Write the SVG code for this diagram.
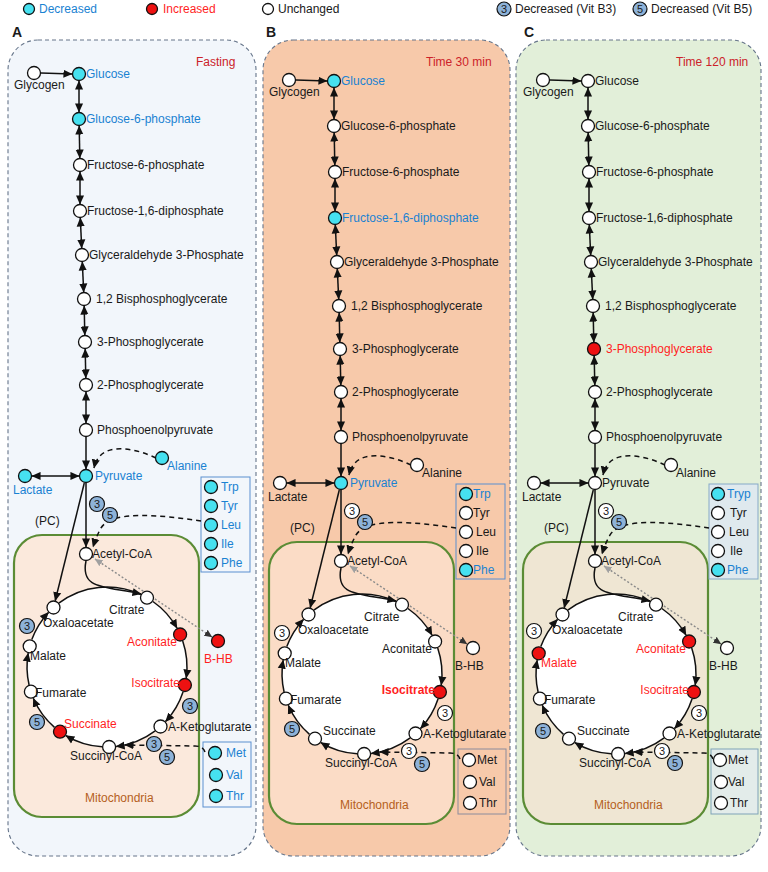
<svg xmlns="http://www.w3.org/2000/svg" width="768" height="872" viewBox="0 0 768 872">
<style>
text{font-family:"Liberation Sans",Arial,sans-serif;font-size:12px;fill:#1a1a1a}
.dec{fill:#1a82d2}.inc{fill:#ff1f1f}.ttl{fill:#cc2229}.mito{fill:#b5601c}
.bold{font-weight:bold}
.n{stroke:#111;stroke-width:1.3}
.nw{fill:#fff}.nc{fill:#46e1f0}.nr{fill:#ee1111}
.bd{stroke:#111;stroke-width:1.2}
.bb{fill:#8db2d8}.bw{fill:#fff}
.bt{font-size:11px;text-anchor:middle}
.ln{fill:none;stroke:#111;stroke-width:1.5}
.dash{fill:none;stroke:#111;stroke-width:1.5;stroke-dasharray:5,4}
.dot{fill:none;stroke:#8a8a8a;stroke-width:1.4;stroke-dasharray:2,2}
.outer{stroke:#66758a;stroke-width:1.1;stroke-dasharray:4,3}
.mbox{stroke:#5b8c35;stroke-width:2.2}
.end{text-anchor:end}
</style>
<defs>
<marker id="ah" viewBox="0 0 10 10" refX="9.5" refY="5" markerWidth="9" markerHeight="9" markerUnits="userSpaceOnUse" orient="auto-start-reverse"><path d="M0,0.5 L10,5 L0,9.5z" fill="#111"/></marker>
<marker id="ahd" viewBox="0 0 10 10" refX="9.5" refY="5" markerWidth="8" markerHeight="8" markerUnits="userSpaceOnUse" orient="auto-start-reverse"><path d="M0,0.5 L10,5 L0,9.5z" fill="#333"/></marker>
<marker id="ahg" viewBox="0 0 10 10" refX="9.5" refY="5" markerWidth="8" markerHeight="8" markerUnits="userSpaceOnUse" orient="auto-start-reverse"><path d="M0,0.5 L10,5 L0,9.5z" fill="#a0a0a0"/></marker>
</defs>

<!-- Legend -->
<g id="legend">
<g id="leg-dec"><circle class="n nc" cx="29" cy="9" r="5.5"/><text class="dec" x="39" y="13">Decreased</text></g>
<g id="leg-inc"><circle class="n nr" cx="152" cy="9" r="5.5"/><text class="inc" x="163" y="13">Increased</text></g>
<g id="leg-unc"><circle class="n nw" cx="268" cy="9" r="5.5"/><text x="278" y="13">Unchanged</text></g>
<g id="leg-b3"><circle class="bd bb" cx="504" cy="9" r="7"/><text class="bt" x="504" y="13">3</text><text x="515" y="13">Decreased (Vit B3)</text></g>
<g id="leg-b5"><circle class="bd bb" cx="640" cy="9" r="7"/><text class="bt" x="640" y="13">5</text><text x="651" y="13">Decreased (Vit B5)</text></g>
</g>

<!-- Panel letters -->
<text class="bold" x="12" y="37" style="font-size:14px">A</text>
<text class="bold" x="266" y="37" style="font-size:14px">B</text>
<text class="bold" x="524" y="37" style="font-size:14px">C</text>

<!-- Outer panels -->
<rect id="panelA-bg" class="outer" x="8" y="40" width="248" height="816" rx="30" fill="#f2f6fb"/>
<rect id="panelB-bg" class="outer" x="263" y="40" width="247" height="816" rx="30" fill="#f7c9aa"/>
<rect id="panelC-bg" class="outer" x="516" y="40" width="245" height="816" rx="30" fill="#e2efd9"/>

<!-- ================= PANEL A ================= -->
<g id="panelA">
<text class="ttl" x="196" y="66">Fasting</text>
<rect id="A-mito" class="mbox" x="14" y="535" width="185" height="282" rx="28" fill="#fbe9dc"/>
<text class="mito" x="85" y="802">Mitochondria</text>
<rect id="A-aabox1" x="201" y="477" width="49" height="95" fill="none" stroke="#5b8fd0" stroke-width="1"/>
<rect id="A-aabox2" x="203" y="742" width="48" height="65" fill="none" stroke="#5b8fd0" stroke-width="1"/>
<circle cx="107" cy="667" r="80" fill="#fff"/>
<g id="A-connectors">
<path class="ln" d="M41,73 L72,74" marker-end="url(#ah)"/>
<path class="ln" d="M79,81 L79,112" marker-start="url(#ah)" marker-end="url(#ah)"/>
<path class="ln" d="M79.2,126 L79.8,158" marker-start="url(#ah)" marker-end="url(#ah)"/>
<path class="ln" d="M80,172 L80,204" marker-start="url(#ah)" marker-end="url(#ah)"/>
<path class="ln" d="M80.3,218 L81.7,248" marker-start="url(#ah)" marker-end="url(#ah)"/>
<path class="ln" d="M82.3,262 L83.7,292" marker-start="url(#ah)" marker-end="url(#ah)"/>
<path class="ln" d="M84.2,306 L84.8,335" marker-start="url(#ah)" marker-end="url(#ah)"/>
<path class="ln" d="M85.2,349 L85.8,378" marker-start="url(#ah)" marker-end="url(#ah)"/>
<path class="ln" d="M86,392 L86,423" marker-start="url(#ah)" marker-end="url(#ah)"/>
<path class="ln" d="M86,437 L86,469" marker-end="url(#ah)"/>
<path class="ln" d="M32,476 L79,476" marker-start="url(#ah)" marker-end="url(#ah)"/>
<path class="dash" d="M156,458 C135,448 100,440 94,468" marker-end="url(#ah)"/>
<path class="ln" d="M86,483 L86,547" marker-end="url(#ah)"/>
<path class="ln" d="M84.3,483 L55.2,600.7" marker-end="url(#ah)"/>
<path class="dash" d="M201,521 C160,515 112,510 101,528 Q96,537 93,547" marker-end="url(#ah)"/>
<path class="ln" d="M86,561 C80,590 105,586 141,594" marker-end="url(#ah)"/>
<path class="dot" d="M95,559 L212,637" marker-start="url(#ahg)" marker-end="url(#ahd)"/>
<path class="ln" d="M58.8,603.1 A80,80 0 0 1 140.8,594.5"/>
<path class="ln" d="M152.9,601.5 A80,80 0 0 1 177,628.2" marker-end="url(#ah)"/>
<path class="ln" d="M182.7,640.9 A80,80 0 0 1 186.2,678.1" marker-end="url(#ah)"/>
<path class="ln" d="M183.1,691.7 A80,80 0 0 1 165.5,721.6" marker-end="url(#ah)"/>
<path class="ln" d="M155.2,730.9 A80,80 0 0 1 116.1,746.5" marker-end="url(#ah)"/>
<path class="ln" d="M102.1,746.8 A80,80 0 0 1 65.8,735.6" marker-end="url(#ah)"/>
<path class="ln" d="M54.5,727.4 A80,80 0 0 1 33.3,698.3" marker-end="url(#ah)"/>
<path class="ln" d="M29.1,685 A80,80 0 0 1 28.2,653.1" marker-end="url(#ah)"/>
<path class="ln" d="M31.8,639.6 A80,80 0 0 1 48.5,612.4" marker-end="url(#ah)"/>
<path class="dash" d="M205,752 Q203,746 195,746 L125,745" marker-end="url(#ah)"/>
</g>
<g id="A-glycogen"><circle class="n nw" cx="34" cy="73" r="6.5"/><text x="14" y="89">Glycogen</text></g>
<g id="A-glucose"><circle class="n nc" cx="79" cy="74" r="6.5"/><text class="dec" x="86" y="78">Glucose</text></g>
<g id="A-g6p"><circle class="n nc" cx="79" cy="119" r="6.5"/><text class="dec" x="86" y="123">Glucose-6-phosphate</text></g>
<g id="A-f6p"><circle class="n nw" cx="80" cy="165" r="6.5"/><text x="87" y="169">Fructose-6-phosphate</text></g>
<g id="A-f16bp"><circle class="n nw" cx="80" cy="211" r="6.5"/><text x="87" y="215">Fructose-1,6-diphosphate</text></g>
<g id="A-ga3p"><circle class="n nw" cx="82" cy="255" r="6.5"/><text x="89" y="259">Glyceraldehyde 3-Phosphate</text></g>
<g id="A-bpg"><circle class="n nw" cx="84" cy="299" r="6.5"/><text x="96" y="303">1,2 Bisphosphoglycerate</text></g>
<g id="A-3pg"><circle class="n nw" cx="85" cy="342" r="6.5"/><text x="97" y="346">3-Phosphoglycerate</text></g>
<g id="A-2pg"><circle class="n nw" cx="86" cy="385" r="6.5"/><text x="97" y="389">2-Phosphoglycerate</text></g>
<g id="A-pep"><circle class="n nw" cx="86" cy="430" r="6.5"/><text x="97" y="434">Phosphoenolpyruvate</text></g>
<g id="A-pyr"><circle class="n nc" cx="86" cy="476" r="6.5"/><text class="dec" x="95" y="480">Pyruvate</text></g>
<g id="A-lac"><circle class="n nc" cx="25" cy="476" r="6.5"/><text class="dec" x="13" y="494">Lactate</text></g>
<g id="A-ala"><circle class="n nc" cx="162" cy="458" r="6.5"/><text class="dec" x="167" y="470">Alanine</text></g>
<g id="A-trp"><circle class="n nc" cx="211" cy="487" r="6.5"/><text class="dec" x="221" y="491">Trp</text></g>
<g id="A-tyr"><circle class="n nc" cx="211" cy="506" r="6.5"/><text class="dec" x="221" y="510">Tyr</text></g>
<g id="A-leu"><circle class="n nc" cx="211" cy="525" r="6.5"/><text class="dec" x="221" y="529">Leu</text></g>
<g id="A-ile"><circle class="n nc" cx="211" cy="544" r="6.5"/><text class="dec" x="221" y="548">Ile</text></g>
<g id="A-phe"><circle class="n nc" cx="211" cy="563" r="6.5"/><text class="dec" x="221" y="567">Phe</text></g>
<text x="35" y="525">(PC)</text>
<g id="A-acoa"><circle class="n nw" cx="86" cy="554" r="6.5"/><text x="92" y="558">Acetyl-CoA</text></g>
<g id="A-cit"><circle class="n nw" cx="147" cy="597.7" r="6.5"/><text x="109" y="614">Citrate</text></g>
<g id="A-oaa"><circle class="n nw" cx="53.5" cy="607.5" r="6.5"/><text x="43" y="627">Oxaloacetate</text></g>
<g id="A-acon"><circle class="n nr" cx="180.1" cy="634.5" r="6.5"/><text class="inc end" x="177" y="646">Aconitate</text></g>
<g id="A-iso"><circle class="n nr" cx="184.9" cy="685" r="6.5"/><text class="inc end" x="180" y="687">Isocitrate</text></g>
<g id="A-akg"><circle class="n nw" cx="160.5" cy="726.5" r="6.5"/><text x="168" y="731">A-Ketoglutarate</text></g>
<g id="A-scoa"><circle class="n nw" cx="109.1" cy="747" r="6.5"/><text x="70" y="760">Succinyl-CoA</text></g>
<g id="A-succ"><circle class="n nr" cx="60" cy="731.7" r="6.5"/><text class="inc" x="64" y="728">Succinate</text></g>
<g id="A-fum"><circle class="n nw" cx="30.9" cy="691.7" r="6.5"/><text x="35" y="697">Fumarate</text></g>
<g id="A-mal"><circle class="n nw" cx="29.7" cy="646.3" r="6.5"/><text x="30" y="660">Malate</text></g>
<g id="A-bhb"><circle class="n nr" cx="218" cy="641" r="6.5"/><text class="inc" x="204" y="663">B-HB</text></g>
<g id="A-met"><circle class="n nc" cx="215" cy="753" r="6.5"/><text class="dec" x="226" y="757">Met</text></g>
<g id="A-val"><circle class="n nc" cx="216" cy="775" r="6.5"/><text class="dec" x="226" y="779">Val</text></g>
<g id="A-thr"><circle class="n nc" cx="216" cy="796" r="6.5"/><text class="dec" x="226" y="800">Thr</text></g>
<g id="A-b-pyr3"><circle class="bd bb" cx="97" cy="504" r="7.5"/><text class="bt" x="97" y="508">3</text></g>
<g id="A-b-pyr5"><circle class="bd bb" cx="110" cy="515" r="7.5"/><text class="bt" x="110" y="519">5</text></g>
<g id="A-b-oaa3"><circle class="bd bb" cx="27" cy="626" r="7.5"/><text class="bt" x="27" y="630">3</text></g>
<g id="A-b-akg3"><circle class="bd bb" cx="190" cy="706" r="7.5"/><text class="bt" x="190" y="710">3</text></g>
<g id="A-b-suc5"><circle class="bd bb" cx="37" cy="722" r="7.5"/><text class="bt" x="37" y="726">5</text></g>
<g id="A-b-scoa3"><circle class="bd bb" cx="154" cy="744" r="7.5"/><text class="bt" x="154" y="748">3</text></g>
<g id="A-b-scoa5"><circle class="bd bb" cx="167" cy="757" r="7.5"/><text class="bt" x="167" y="761">5</text></g>
</g>

<!-- ================= PANEL B ================= -->
<text class="ttl" x="426" y="66">Time 30 min</text>
<g id="panelB" transform="translate(255,7)">
<rect id="B-mito" class="mbox" x="14" y="535" width="185" height="282" rx="28" fill="#fbdcc6"/>
<text class="mito" x="85" y="802">Mitochondria</text>
<rect id="B-aabox1" x="201" y="477" width="49" height="95" fill="none" stroke="#5b8fd0" stroke-width="1"/>
<rect id="B-aabox2" x="203" y="742" width="48" height="65" fill="none" stroke="#8c8c9c" stroke-width="1"/>
<circle cx="107" cy="667" r="80" fill="#fff"/>
<g id="B-connectors">
<path class="ln" d="M41,73 L72,74" marker-end="url(#ah)"/>
<path class="ln" d="M79,81 L79,112" marker-start="url(#ah)" marker-end="url(#ah)"/>
<path class="ln" d="M79.2,126 L79.8,158" marker-start="url(#ah)" marker-end="url(#ah)"/>
<path class="ln" d="M80,172 L80,204" marker-start="url(#ah)" marker-end="url(#ah)"/>
<path class="ln" d="M80.3,218 L81.7,248" marker-start="url(#ah)" marker-end="url(#ah)"/>
<path class="ln" d="M82.3,262 L83.7,292" marker-start="url(#ah)" marker-end="url(#ah)"/>
<path class="ln" d="M84.2,306 L84.8,335" marker-start="url(#ah)" marker-end="url(#ah)"/>
<path class="ln" d="M85.2,349 L85.8,378" marker-start="url(#ah)" marker-end="url(#ah)"/>
<path class="ln" d="M86,392 L86,423" marker-start="url(#ah)" marker-end="url(#ah)"/>
<path class="ln" d="M86,437 L86,469" marker-end="url(#ah)"/>
<path class="ln" d="M32,476 L79,476" marker-start="url(#ah)" marker-end="url(#ah)"/>
<path class="dash" d="M156,458 C135,448 100,440 94,468" marker-end="url(#ah)"/>
<path class="ln" d="M86,483 L86,547" marker-end="url(#ah)"/>
<path class="ln" d="M84.3,483 L55.2,600.7" marker-end="url(#ah)"/>
<path class="dash" d="M201,521 C160,515 112,510 101,528 Q96,537 93,547" marker-end="url(#ah)"/>
<path class="ln" d="M86,561 C80,590 105,586 141,594" marker-end="url(#ah)"/>
<path class="dot" d="M95,559 L212,637" marker-start="url(#ahg)" marker-end="url(#ahd)"/>
<path class="ln" d="M58.8,603.1 A80,80 0 0 1 140.8,594.5"/>
<path class="ln" d="M152.9,601.5 A80,80 0 0 1 177,628.2" marker-end="url(#ah)"/>
<path class="ln" d="M182.7,640.9 A80,80 0 0 1 186.2,678.1" marker-end="url(#ah)"/>
<path class="ln" d="M183.1,691.7 A80,80 0 0 1 165.5,721.6" marker-end="url(#ah)"/>
<path class="ln" d="M155.2,730.9 A80,80 0 0 1 116.1,746.5" marker-end="url(#ah)"/>
<path class="ln" d="M102.1,746.8 A80,80 0 0 1 65.8,735.6" marker-end="url(#ah)"/>
<path class="ln" d="M54.5,727.4 A80,80 0 0 1 33.3,698.3" marker-end="url(#ah)"/>
<path class="ln" d="M29.1,685 A80,80 0 0 1 28.2,653.1" marker-end="url(#ah)"/>
<path class="ln" d="M31.8,639.6 A80,80 0 0 1 48.5,612.4" marker-end="url(#ah)"/>
<path class="dash" d="M205,752 Q203,746 195,746 L125,745" marker-end="url(#ah)"/>
</g>
<g id="B-glycogen"><circle class="n nw" cx="34" cy="73" r="6.5"/><text x="14" y="89">Glycogen</text></g>
<g id="B-glucose"><circle class="n nc" cx="79" cy="74" r="6.5"/><text class="dec" x="86" y="78">Glucose</text></g>
<g id="B-g6p"><circle class="n nw" cx="79" cy="119" r="6.5"/><text x="86" y="123">Glucose-6-phosphate</text></g>
<g id="B-f6p"><circle class="n nw" cx="80" cy="165" r="6.5"/><text x="87" y="169">Fructose-6-phosphate</text></g>
<g id="B-f16bp"><circle class="n nc" cx="80" cy="211" r="6.5"/><text class="dec" x="87" y="215">Fructose-1,6-diphosphate</text></g>
<g id="B-ga3p"><circle class="n nw" cx="82" cy="255" r="6.5"/><text x="89" y="259">Glyceraldehyde 3-Phosphate</text></g>
<g id="B-bpg"><circle class="n nw" cx="84" cy="299" r="6.5"/><text x="96" y="303">1,2 Bisphosphoglycerate</text></g>
<g id="B-3pg"><circle class="n nw" cx="85" cy="342" r="6.5"/><text x="97" y="346">3-Phosphoglycerate</text></g>
<g id="B-2pg"><circle class="n nw" cx="86" cy="385" r="6.5"/><text x="97" y="389">2-Phosphoglycerate</text></g>
<g id="B-pep"><circle class="n nw" cx="86" cy="430" r="6.5"/><text x="97" y="434">Phosphoenolpyruvate</text></g>
<g id="B-pyr"><circle class="n nc" cx="86" cy="476" r="6.5"/><text class="dec" x="95" y="480">Pyruvate</text></g>
<g id="B-lac"><circle class="n nw" cx="25" cy="476" r="6.5"/><text x="13" y="494">Lactate</text></g>
<g id="B-ala"><circle class="n nw" cx="162" cy="458" r="6.5"/><text x="167" y="470">Alanine</text></g>
<g id="B-trp"><circle class="n nc" cx="211" cy="487" r="6.5"/><text class="dec" x="218" y="491">Trp</text></g>
<g id="B-tyr"><circle class="n nw" cx="211" cy="506" r="6.5"/><text x="218" y="510">Tyr</text></g>
<g id="B-leu"><circle class="n nw" cx="211" cy="525" r="6.5"/><text x="221" y="529">Leu</text></g>
<g id="B-ile"><circle class="n nw" cx="211" cy="544" r="6.5"/><text x="221" y="548">Ile</text></g>
<g id="B-phe"><circle class="n nc" cx="211" cy="563" r="6.5"/><text class="dec" x="218" y="567">Phe</text></g>
<text x="35" y="525">(PC)</text>
<g id="B-acoa"><circle class="n nw" cx="86" cy="554" r="6.5"/><text x="92" y="558">Acetyl-CoA</text></g>
<g id="B-cit"><circle class="n nw" cx="147" cy="597.7" r="6.5"/><text x="109" y="614">Citrate</text></g>
<g id="B-oaa"><circle class="n nw" cx="53.5" cy="607.5" r="6.5"/><text x="43" y="627">Oxaloacetate</text></g>
<g id="B-acon"><circle class="n nw" cx="180.1" cy="634.5" r="6.5"/><text class="end" x="177" y="646">Aconitate</text></g>
<g id="B-iso"><circle class="n nr" cx="184.9" cy="685" r="6.5"/><text class="inc end bold" x="180" y="687">Isocitrate</text></g>
<g id="B-akg"><circle class="n nw" cx="160.5" cy="726.5" r="6.5"/><text x="168" y="731">A-Ketoglutarate</text></g>
<g id="B-scoa"><circle class="n nw" cx="109.1" cy="747" r="6.5"/><text x="70" y="760">Succinyl-CoA</text></g>
<g id="B-succ"><circle class="n nw" cx="60" cy="731.7" r="6.5"/><text x="68" y="728">Succinate</text></g>
<g id="B-fum"><circle class="n nw" cx="30.9" cy="691.7" r="6.5"/><text x="35" y="697">Fumarate</text></g>
<g id="B-mal"><circle class="n nw" cx="29.7" cy="646.3" r="6.5"/><text x="30" y="660">Malate</text></g>
<g id="B-bhb"><circle class="n nw" cx="218" cy="641" r="6.5"/><text x="200" y="663">B-HB</text></g>
<g id="B-met"><circle class="n nw" cx="214" cy="753" r="6.5"/><text x="222" y="757">Met</text></g>
<g id="B-val"><circle class="n nw" cx="215" cy="775" r="6.5"/><text x="224" y="779">Val</text></g>
<g id="B-thr"><circle class="n nw" cx="215" cy="796" r="6.5"/><text x="224" y="800">Thr</text></g>
<g id="B-b-pyr3"><circle class="bd bw" cx="97" cy="504" r="7.5"/><text class="bt" x="97" y="508">3</text></g>
<g id="B-b-pyr5"><circle class="bd bb" cx="110" cy="515" r="7.5"/><text class="bt" x="110" y="519">5</text></g>
<g id="B-b-oaa3"><circle class="bd bw" cx="27" cy="626" r="7.5"/><text class="bt" x="27" y="630">3</text></g>
<g id="B-b-akg3"><circle class="bd bw" cx="190" cy="706" r="7.5"/><text class="bt" x="190" y="710">3</text></g>
<g id="B-b-suc5"><circle class="bd bb" cx="37" cy="722" r="7.5"/><text class="bt" x="37" y="726">5</text></g>
<g id="B-b-scoa3"><circle class="bd bw" cx="154" cy="744" r="7.5"/><text class="bt" x="154" y="748">3</text></g>
<g id="B-b-scoa5"><circle class="bd bb" cx="167" cy="757" r="7.5"/><text class="bt" x="167" y="761">5</text></g>
</g>

<!-- ================= PANEL C ================= -->
<text class="ttl" x="676" y="66">Time 120 min</text>
<g id="panelC" transform="translate(509,7)">
<rect id="C-mito" class="mbox" x="14" y="535" width="185" height="282" rx="28" fill="#efe6d3"/>
<text class="mito" x="85" y="802">Mitochondria</text>
<rect id="C-aabox1" x="200" y="477" width="49" height="95" fill="#dfe9ee" stroke="#86a9c8" stroke-width="1"/>
<rect id="C-aabox2" x="202" y="742" width="47" height="65" fill="#e3ecea" stroke="#7fa3b8" stroke-width="1"/>
<circle cx="107" cy="667" r="80" fill="#fff"/>
<g id="C-connectors">
<path class="ln" d="M41,73 L72,74" marker-end="url(#ah)"/>
<path class="ln" d="M79,81 L79,112" marker-start="url(#ah)" marker-end="url(#ah)"/>
<path class="ln" d="M79.2,126 L79.8,158" marker-start="url(#ah)" marker-end="url(#ah)"/>
<path class="ln" d="M80,172 L80,204" marker-start="url(#ah)" marker-end="url(#ah)"/>
<path class="ln" d="M80.3,218 L81.7,248" marker-start="url(#ah)" marker-end="url(#ah)"/>
<path class="ln" d="M82.3,262 L83.7,292" marker-start="url(#ah)" marker-end="url(#ah)"/>
<path class="ln" d="M84.2,306 L84.8,335" marker-start="url(#ah)" marker-end="url(#ah)"/>
<path class="ln" d="M85.2,349 L85.8,378" marker-start="url(#ah)" marker-end="url(#ah)"/>
<path class="ln" d="M86,392 L86,423" marker-start="url(#ah)" marker-end="url(#ah)"/>
<path class="ln" d="M86,437 L86,469" marker-end="url(#ah)"/>
<path class="ln" d="M32,476 L79,476" marker-start="url(#ah)" marker-end="url(#ah)"/>
<path class="dash" d="M156,458 C135,448 100,440 94,468" marker-end="url(#ah)"/>
<path class="ln" d="M86,483 L86,547" marker-end="url(#ah)"/>
<path class="ln" d="M84.3,483 L55.2,600.7" marker-end="url(#ah)"/>
<path class="dash" d="M200,521 C160,515 112,510 101,528 Q96,537 93,547" marker-end="url(#ah)"/>
<path class="ln" d="M86,561 C80,590 105,586 141,594" marker-end="url(#ah)"/>
<path class="dot" d="M95,559 L212,637" marker-start="url(#ahg)" marker-end="url(#ahd)"/>
<path class="ln" d="M58.8,603.1 A80,80 0 0 1 140.8,594.5"/>
<path class="ln" d="M152.9,601.5 A80,80 0 0 1 177,628.2" marker-end="url(#ah)"/>
<path class="ln" d="M182.7,640.9 A80,80 0 0 1 186.2,678.1" marker-end="url(#ah)"/>
<path class="ln" d="M183.1,691.7 A80,80 0 0 1 165.5,721.6" marker-end="url(#ah)"/>
<path class="ln" d="M155.2,730.9 A80,80 0 0 1 116.1,746.5" marker-end="url(#ah)"/>
<path class="ln" d="M102.1,746.8 A80,80 0 0 1 65.8,735.6" marker-end="url(#ah)"/>
<path class="ln" d="M54.5,727.4 A80,80 0 0 1 33.3,698.3" marker-end="url(#ah)"/>
<path class="ln" d="M29.1,685 A80,80 0 0 1 28.2,653.1" marker-end="url(#ah)"/>
<path class="ln" d="M31.8,639.6 A80,80 0 0 1 48.5,612.4" marker-end="url(#ah)"/>
<path class="dash" d="M204,752 Q202,746 195,746 L125,745" marker-end="url(#ah)"/>
</g>
<g id="C-glycogen"><circle class="n nw" cx="34" cy="73" r="6.5"/><text x="14" y="89">Glycogen</text></g>
<g id="C-glucose"><circle class="n nw" cx="79" cy="74" r="6.5"/><text x="86" y="78">Glucose</text></g>
<g id="C-g6p"><circle class="n nw" cx="79" cy="119" r="6.5"/><text x="86" y="123">Glucose-6-phosphate</text></g>
<g id="C-f6p"><circle class="n nw" cx="80" cy="165" r="6.5"/><text x="87" y="169">Fructose-6-phosphate</text></g>
<g id="C-f16bp"><circle class="n nw" cx="80" cy="211" r="6.5"/><text x="87" y="215">Fructose-1,6-diphosphate</text></g>
<g id="C-ga3p"><circle class="n nw" cx="82" cy="255" r="6.5"/><text x="89" y="259">Glyceraldehyde 3-Phosphate</text></g>
<g id="C-bpg"><circle class="n nw" cx="84" cy="299" r="6.5"/><text x="96" y="303">1,2 Bisphosphoglycerate</text></g>
<g id="C-3pg"><circle class="n nr" cx="85" cy="342" r="6.5"/><text class="inc" x="97" y="346">3-Phosphoglycerate</text></g>
<g id="C-2pg"><circle class="n nw" cx="86" cy="385" r="6.5"/><text x="97" y="389">2-Phosphoglycerate</text></g>
<g id="C-pep"><circle class="n nw" cx="86" cy="430" r="6.5"/><text x="97" y="434">Phosphoenolpyruvate</text></g>
<g id="C-pyr"><circle class="n nw" cx="86" cy="476" r="6.5"/><text x="93" y="480">Pyruvate</text></g>
<g id="C-lac"><circle class="n nw" cx="25" cy="476" r="6.5"/><text x="13" y="494">Lactate</text></g>
<g id="C-ala"><circle class="n nw" cx="162" cy="458" r="6.5"/><text x="167" y="470">Alanine</text></g>
<g id="C-trp"><circle class="n nc" cx="209" cy="487" r="6.5"/><text class="dec" x="218" y="491">Tryp</text></g>
<g id="C-tyr"><circle class="n nw" cx="209" cy="506" r="6.5"/><text x="221" y="510">Tyr</text></g>
<g id="C-leu"><circle class="n nw" cx="209" cy="525" r="6.5"/><text x="220" y="529">Leu</text></g>
<g id="C-ile"><circle class="n nw" cx="209" cy="544" r="6.5"/><text x="221" y="548">Ile</text></g>
<g id="C-phe"><circle class="n nc" cx="209" cy="563" r="6.5"/><text class="dec" x="218" y="567">Phe</text></g>
<text x="35" y="525">(PC)</text>
<g id="C-acoa"><circle class="n nw" cx="86" cy="554" r="6.5"/><text x="92" y="558">Acetyl-CoA</text></g>
<g id="C-cit"><circle class="n nw" cx="147" cy="597.7" r="6.5"/><text x="109" y="614">Citrate</text></g>
<g id="C-oaa"><circle class="n nw" cx="53.5" cy="607.5" r="6.5"/><text x="43" y="627">Oxaloacetate</text></g>
<g id="C-acon"><circle class="n nr" cx="180.1" cy="634.5" r="6.5"/><text class="inc end" x="177" y="646">Aconitate</text></g>
<g id="C-iso"><circle class="n nr" cx="184.9" cy="685" r="6.5"/><text class="inc end" x="180" y="687">Isocitrate</text></g>
<g id="C-akg"><circle class="n nw" cx="160.5" cy="726.5" r="6.5"/><text x="168" y="731">A-Ketoglutarate</text></g>
<g id="C-scoa"><circle class="n nw" cx="109.1" cy="747" r="6.5"/><text x="70" y="760">Succinyl-CoA</text></g>
<g id="C-succ"><circle class="n nw" cx="60" cy="731.7" r="6.5"/><text x="68" y="728">Succinate</text></g>
<g id="C-fum"><circle class="n nw" cx="30.9" cy="691.7" r="6.5"/><text x="35" y="697">Fumarate</text></g>
<g id="C-mal"><circle class="n nr" cx="29.7" cy="646.3" r="6.5"/><text class="inc" x="32" y="660">Malate</text></g>
<g id="C-bhb"><circle class="n nw" cx="218" cy="641" r="6.5"/><text x="200" y="663">B-HB</text></g>
<g id="C-met"><circle class="n nw" cx="211" cy="753" r="6.5"/><text x="219" y="757">Met</text></g>
<g id="C-val"><circle class="n nw" cx="212" cy="775" r="6.5"/><text x="219" y="779">Val</text></g>
<g id="C-thr"><circle class="n nw" cx="212" cy="796" r="6.5"/><text x="221" y="800">Thr</text></g>
<g id="C-b-pyr3"><circle class="bd bw" cx="97" cy="504" r="7.5"/><text class="bt" x="97" y="508">3</text></g>
<g id="C-b-pyr5"><circle class="bd bb" cx="110" cy="515" r="7.5"/><text class="bt" x="110" y="519">5</text></g>
<g id="C-b-oaa3"><circle class="bd bw" cx="25" cy="624" r="7.5"/><text class="bt" x="25" y="628">3</text></g>
<g id="C-b-akg3"><circle class="bd bw" cx="190" cy="706" r="7.5"/><text class="bt" x="190" y="710">3</text></g>
<g id="C-b-suc5"><circle class="bd bb" cx="34" cy="724" r="7.5"/><text class="bt" x="34" y="728">5</text></g>
<g id="C-b-scoa3"><circle class="bd bw" cx="153" cy="744" r="7.5"/><text class="bt" x="153" y="748">3</text></g>
<g id="C-b-scoa5"><circle class="bd bb" cx="166" cy="756" r="7.5"/><text class="bt" x="166" y="760">5</text></g>
</g>
</svg>
